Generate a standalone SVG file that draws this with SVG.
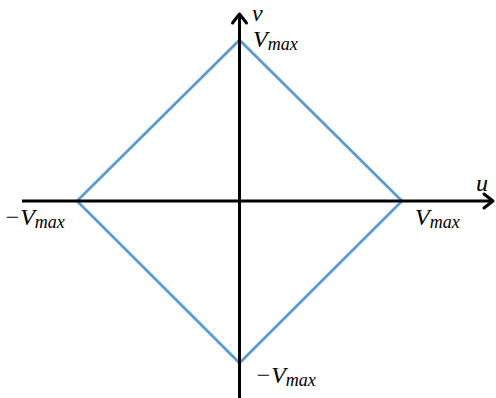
<svg xmlns="http://www.w3.org/2000/svg" width="496" height="398" viewBox="0 0 496 398">
<style>
.ax{stroke:#000;stroke-width:3;fill:none}
.ah{stroke:#000;stroke-width:3;fill:none;stroke-linecap:round;stroke-linejoin:round}
.dm{stroke:#5B9BD5;stroke-width:2.75;fill:none;stroke-linejoin:miter}
.t{font-family:"Liberation Serif","DejaVu Serif",serif;font-style:italic;font-size:24px;fill:#000}
.s{font-size:18px}
</style>
<rect width="496" height="398" fill="#fff"/>
<g id="diamond">
<polygon class="dm" points="239.5,40 402,201 239.5,363 77,201"/>
</g>
<g id="connectors">
<line class="ax" x1="22" y1="201" x2="493" y2="201"/>
<polyline class="ah" points="484,194 493,201 484,208"/>
<line class="ax" x1="239.5" y1="398" x2="239.5" y2="14"/>
<polyline class="ah" points="232.5,23 239.5,14 246.5,23"/>
</g>
<g id="labels">
<text class="t" x="252" y="21" font-size="20">v</text>
<text class="t" x="253" y="47">V<tspan class="s" dy="3">max</tspan></text>
<text class="t" x="4" y="225">−V<tspan class="s" dy="3">max</tspan></text>
<text class="t" x="476" y="191">u</text>
<text class="t" x="415" y="225">V<tspan class="s" dy="3">max</tspan></text>
<text class="t" x="255" y="383">−V<tspan class="s" dy="3">max</tspan></text>
</g>
</svg>
